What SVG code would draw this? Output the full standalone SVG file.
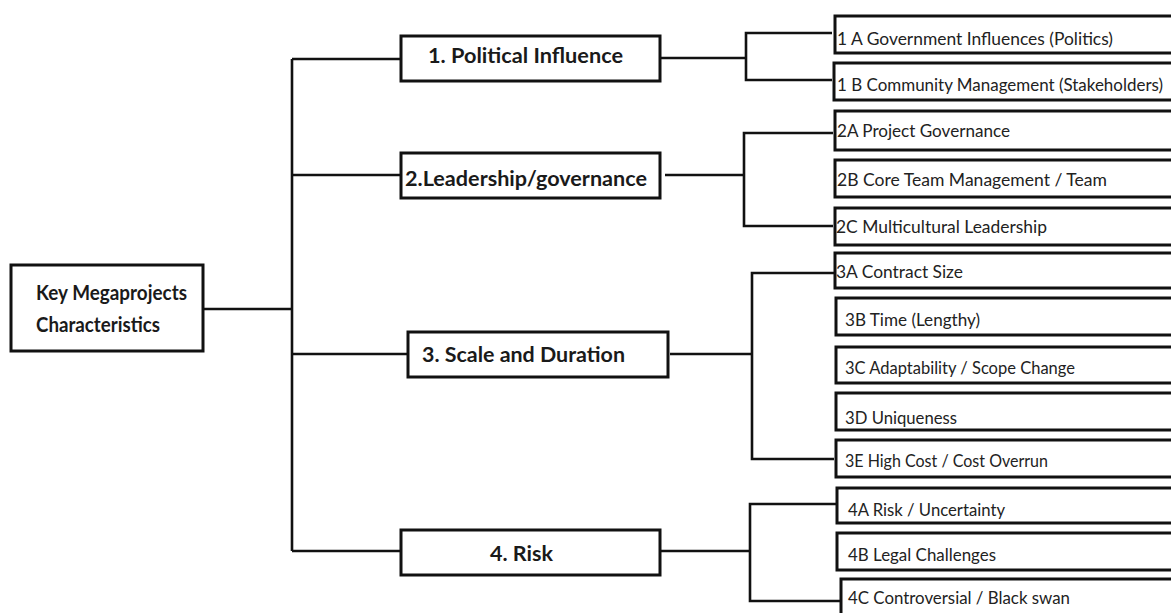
<svg xmlns="http://www.w3.org/2000/svg" width="1171" height="613" viewBox="0 0 1171 613">
  <style>
    .box { fill: #ffffff; stroke: #111111; stroke-width: 3; }
    .link { fill: none; stroke: #111111; stroke-width: 2.6; stroke-linejoin: miter; }
    .main { font-family: Lato, "Open Sans", "Liberation Sans", sans-serif; font-weight: bold; font-size: 21.5px; fill: #1a1a1a; }
    .sub { font-family: Lato, "Open Sans", "Liberation Sans", sans-serif; font-size: 18px; fill: #222222; }
    .sub.long { font-size: 16.5px; }
  </style>
  <rect width="1171" height="613" fill="#ffffff"/>

  <!-- connectors -->
  <g id="connectors">
    <path class="link" d="M203,309 H292"/>
    <path class="link" d="M292,59 V551"/>
    <path class="link" d="M292,59 H401"/>
    <path class="link" d="M292,175 H401"/>
    <path class="link" d="M292,354 H408"/>
    <path class="link" d="M292,551 H401"/>
    <!-- group 1 -->
    <path class="link" d="M660,58 H746"/>
    <path class="link" d="M832,33 H746 V80 H832"/>
    <!-- group 2 -->
    <path class="link" d="M665,175 H744"/>
    <path class="link" d="M833,133 H744 V226 H833"/>
    <!-- group 3 -->
    <path class="link" d="M670,354 H752"/>
    <path class="link" d="M834,273 H752 V459 H834"/>
    <!-- group 4 -->
    <path class="link" d="M660,551 H750"/>
    <path class="link" d="M836,504 H750 V601 H840"/>
  </g>

  <!-- root -->
  <g id="root">
    <rect class="box" x="11" y="265" width="192" height="86"/>
    <text class="main" x="36" y="300" textLength="151" lengthAdjust="spacingAndGlyphs">Key Megaprojects</text>
    <text class="main" x="36" y="332" textLength="124" lengthAdjust="spacingAndGlyphs">Characteristics</text>
  </g>

  <!-- level 1 -->
  <g id="n1">
    <rect class="box" x="401" y="36" width="259" height="45"/>
    <text class="main" x="428" y="63" textLength="195" lengthAdjust="spacingAndGlyphs">1. Political Influence</text>
  </g>
  <g id="n2">
    <rect class="box" x="401" y="153" width="259" height="45"/>
    <text class="main" x="405" y="186" textLength="242" lengthAdjust="spacingAndGlyphs">2.Leadership/governance</text>
  </g>
  <g id="n3">
    <rect class="box" x="408" y="332" width="260" height="45"/>
    <text class="main" x="422" y="362" textLength="203" lengthAdjust="spacingAndGlyphs">3. Scale and Duration</text>
  </g>
  <g id="n4">
    <rect class="box" x="401" y="530" width="259" height="45"/>
    <text class="main" x="490" y="561" textLength="63" lengthAdjust="spacingAndGlyphs">4. Risk</text>
  </g>

  <!-- level 2 -->
  <g id="n1a">
    <rect class="box" x="835" y="16" width="350" height="37"/>
    <text class="sub" x="837" y="45" textLength="276" lengthAdjust="spacingAndGlyphs">1 A Government Influences (Politics)</text>
  </g>
  <g id="n1b">
    <rect class="box" x="834" y="63" width="350" height="37"/>
    <text class="sub long" x="837" y="91" textLength="326" lengthAdjust="spacingAndGlyphs">1 B Community Management (Stakeholders)</text>
  </g>
  <g id="n2a">
    <rect class="box" x="835" y="111" width="350" height="39"/>
    <text class="sub" x="837" y="137" textLength="173" lengthAdjust="spacingAndGlyphs">2A Project Governance</text>
  </g>
  <g id="n2b">
    <rect class="box" x="835" y="160" width="350" height="37"/>
    <text class="sub" x="837" y="186" textLength="270" lengthAdjust="spacingAndGlyphs">2B Core Team Management / Team</text>
  </g>
  <g id="n2c">
    <rect class="box" x="835" y="208" width="350" height="37"/>
    <text class="sub" x="836" y="233" textLength="211" lengthAdjust="spacingAndGlyphs">2C Multicultural Leadership</text>
  </g>
  <g id="n3a">
    <rect class="box" x="835" y="253" width="350" height="35"/>
    <text class="sub" x="836" y="278" textLength="127" lengthAdjust="spacingAndGlyphs">3A Contract Size</text>
  </g>
  <g id="n3b">
    <rect class="box" x="836" y="298" width="350" height="37"/>
    <text class="sub" x="845" y="326" textLength="135" lengthAdjust="spacingAndGlyphs">3B Time (Lengthy)</text>
  </g>
  <g id="n3c">
    <rect class="box" x="836" y="347" width="350" height="36"/>
    <text class="sub" x="845" y="374" textLength="230" lengthAdjust="spacingAndGlyphs">3C Adaptability / Scope Change</text>
  </g>
  <g id="n3d">
    <rect class="box" x="836" y="393" width="350" height="37"/>
    <text class="sub" x="845" y="424" textLength="112" lengthAdjust="spacingAndGlyphs">3D Uniqueness</text>
  </g>
  <g id="n3e">
    <rect class="box" x="836" y="440" width="350" height="37"/>
    <text class="sub" x="845" y="467" textLength="203" lengthAdjust="spacingAndGlyphs">3E High Cost / Cost Overrun</text>
  </g>
  <g id="n4a">
    <rect class="box" x="837" y="488" width="350" height="35"/>
    <text class="sub" x="848" y="516" textLength="157" lengthAdjust="spacingAndGlyphs">4A Risk / Uncertainty</text>
  </g>
  <g id="n4b">
    <rect class="box" x="837" y="533" width="350" height="37"/>
    <text class="sub" x="848" y="561" textLength="148" lengthAdjust="spacingAndGlyphs">4B Legal Challenges</text>
  </g>
  <g id="n4c">
    <rect class="box" x="841" y="579" width="350" height="40"/>
    <text class="sub" x="848" y="604" textLength="222" lengthAdjust="spacingAndGlyphs">4C Controversial / Black swan</text>
  </g>
</svg>
